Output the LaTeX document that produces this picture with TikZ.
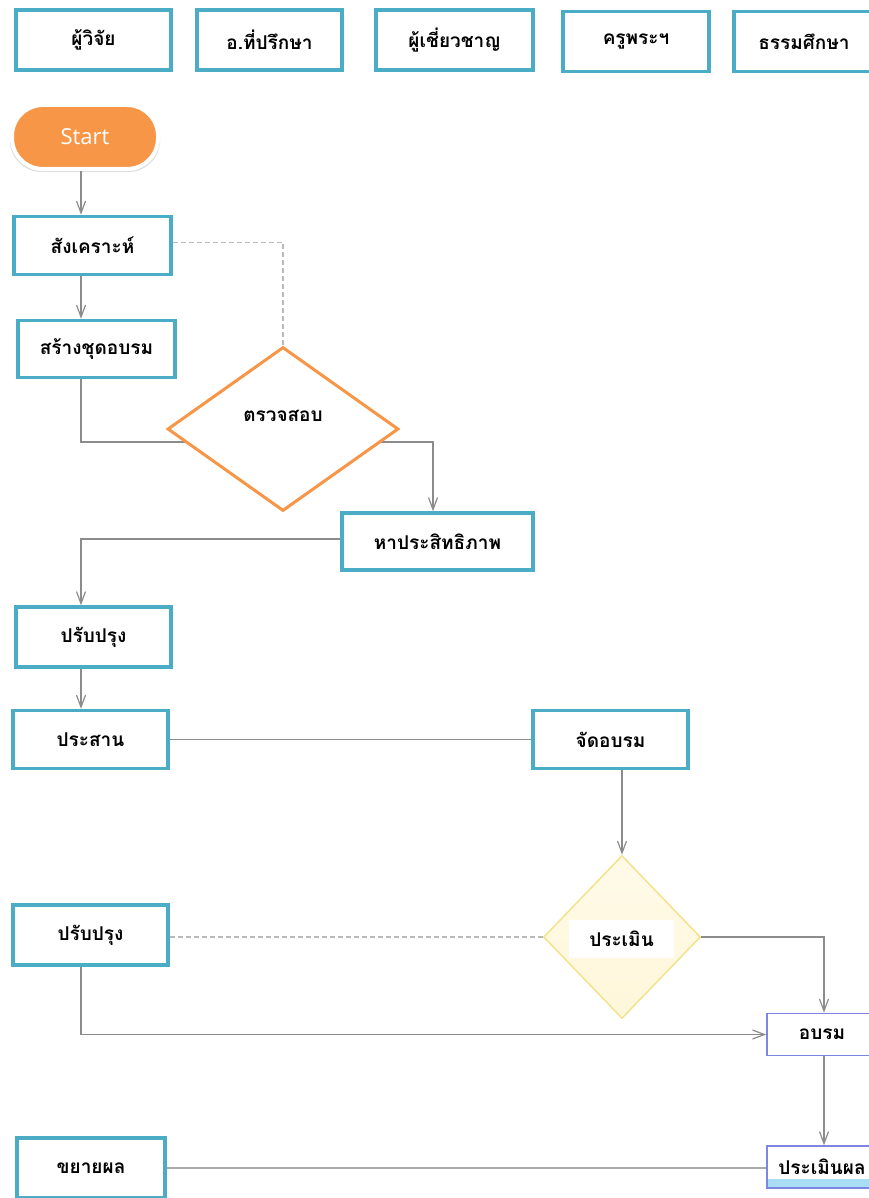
\documentclass[tikz,border=0pt]{standalone}
\usepackage{fontspec}
\setmainfont{Open Sans}
\newfontfamily\thaifont[Script=Thai]{Loma}
\usetikzlibrary{shapes.geometric,arrows.meta,shadows}

\definecolor{laneteal}{HTML}{4BACC6}
\definecolor{startorange}{HTML}{F79646}
\definecolor{linegray}{HTML}{8C8C8C}
\definecolor{checkyellow}{HTML}{F3E38C}
\definecolor{paleyellow}{HTML}{FFF7DA}
\definecolor{trainblue}{HTML}{7F86E2}
\definecolor{skyblue}{HTML}{A9DDF3}

\tikzset{
  thaitext/.style={font=\thaifont\bfseries\fontsize{19}{22}\selectfont},
  lanebox/.style={thaitext,draw=laneteal,line width=3.5pt,fill=white,minimum width=155pt,minimum height=60pt,inner sep=0pt},
  stepbox/.style={thaitext,draw=trainblue,line width=1.6pt,fill=white,minimum width=110pt,minimum height=42pt,inner sep=0pt},
  link/.style={draw=linegray,line width=1.2pt},
  flow/.style={link,-{Straight Barb[length=12pt,width=9pt]}},
  hint/.style={link,draw=linegray!60,dash pattern=on 5pt off 3pt},
}

\begin{document}
\begin{tikzpicture}[x=1pt,y=-1pt]
    \clip (0,0) rectangle (869,1198);
    \fill[white] (0,0) rectangle (869,1198);
    \coordinate (spine) at (81,0);
    \coordinate (kink) at (81,442);
    % lanes
    \node[lanebox] (researcher) at (93.5,40) {ผู้วิจัย};
    \node[lanebox,minimum width=145pt] (advisor) at (269.5,40) {อ.ที่ปรึกษา};
    \node[lanebox,minimum width=157pt] (expert) at (454.5,40) {ผู้เชี่ยวชาญ};
    \node[lanebox,minimum width=146pt] (monk) at (636,41.5) {ครูพระฯ};
    \node[lanebox,minimum width=140pt] (dharma) at (804,41.5) {ธรรมศึกษา};
    % flow
    \node[fill=startorange,draw=white,line width=4pt,rounded corners=31pt,minimum width=146pt,minimum height=64pt,
      text=white,font=\fontsize{22}{26}\selectfont,drop shadow={opacity=0.25,shadow xshift=0pt,shadow yshift=-2pt,shadow scale=1.03}] (start) at (85,137) {Start};
    \node[lanebox,minimum width=157pt,minimum height=58pt] (synth) at (92.5,245.5) {สังเคราะห์};
    \node[lanebox,minimum width=157pt,minimum height=57pt] (build) at (96.5,349) {สร้างชุดอบรม};
    \node[lanebox,minimum width=191pt,minimum height=57pt] (effect) at (437.5,541.5) {หาประสิทธิภาพ};
    \draw[flow] (build.south -| spine) -- (kink) -| ([xshift=-4.5pt]effect.north);
    \node[draw=startorange,line width=3pt,fill=white,shape=diamond,minimum width=231pt,minimum height=164pt,inner sep=0pt,
      label={[thaitext,yshift=13pt]center:ตรวจสอบ}] (check) at (283,429) {};
    \node[lanebox] (improveA) at (93.5,637) {ปรับปรุง};
    \node[lanebox,minimum height=58pt] (merge) at (90.5,739.5) {ประสาน};
    \node[lanebox,minimum height=58pt] (train) at (610.5,739.5) {จัดอบรม};
    \node[draw=checkyellow,line width=1.5pt,top color=paleyellow!60,bottom color=paleyellow,shape=diamond,
      minimum width=157pt,minimum height=163pt,inner sep=0pt] (assess) at (622,937) {};
    \node[thaitext,fill=white,minimum width=105pt,minimum height=38pt] (assesstext) at (621.5,939) {ประเมิน};
    \node[lanebox] (improveB) at (90.5,935) {ปรับปรุง};
    \node[stepbox] (course) at (822,1034.5) {อบรม};
    \node[stepbox,path picture={\fill[skyblue] (path picture bounding box.south west) rectangle ([yshift=9pt]path picture bounding box.south east);}] (evaluate) at (822,1167) {ประเมินผล};
    \node[lanebox,minimum width=148pt] (expand) at (91,1168) {ขยายผล};
    % connectors
    \draw[flow] (start.south -| spine) -- (synth.north -| spine);
    \draw[flow] (synth.south -| spine) -- (build.north -| spine);
    \draw[hint] ([yshift=3pt]synth.east) -| (check.north);
    \draw[flow] ([yshift=2.5pt]effect.west) -| (improveA.north -| spine);
    \draw[flow] (improveA.south -| spine) -- (merge.north -| spine);
    \draw[link] (merge.east) -- (train.west);
    \draw[flow] (train.south -| assess.north) -- (assess.north);
    \draw[hint] (improveB.east |- assess.west) -- (assess.west);
    \draw[flow] (assess.east) -| ([xshift=2pt]course.north);
    \draw[flow] (improveB.south -| spine) |- (course.west);
    \draw[flow] ([xshift=2pt]course.south) -- ([xshift=2pt]evaluate.north);
    \draw[link,draw=linegray!75] (expand.east) -- (expand.east -| evaluate.west);
\end{tikzpicture}
\end{document}
